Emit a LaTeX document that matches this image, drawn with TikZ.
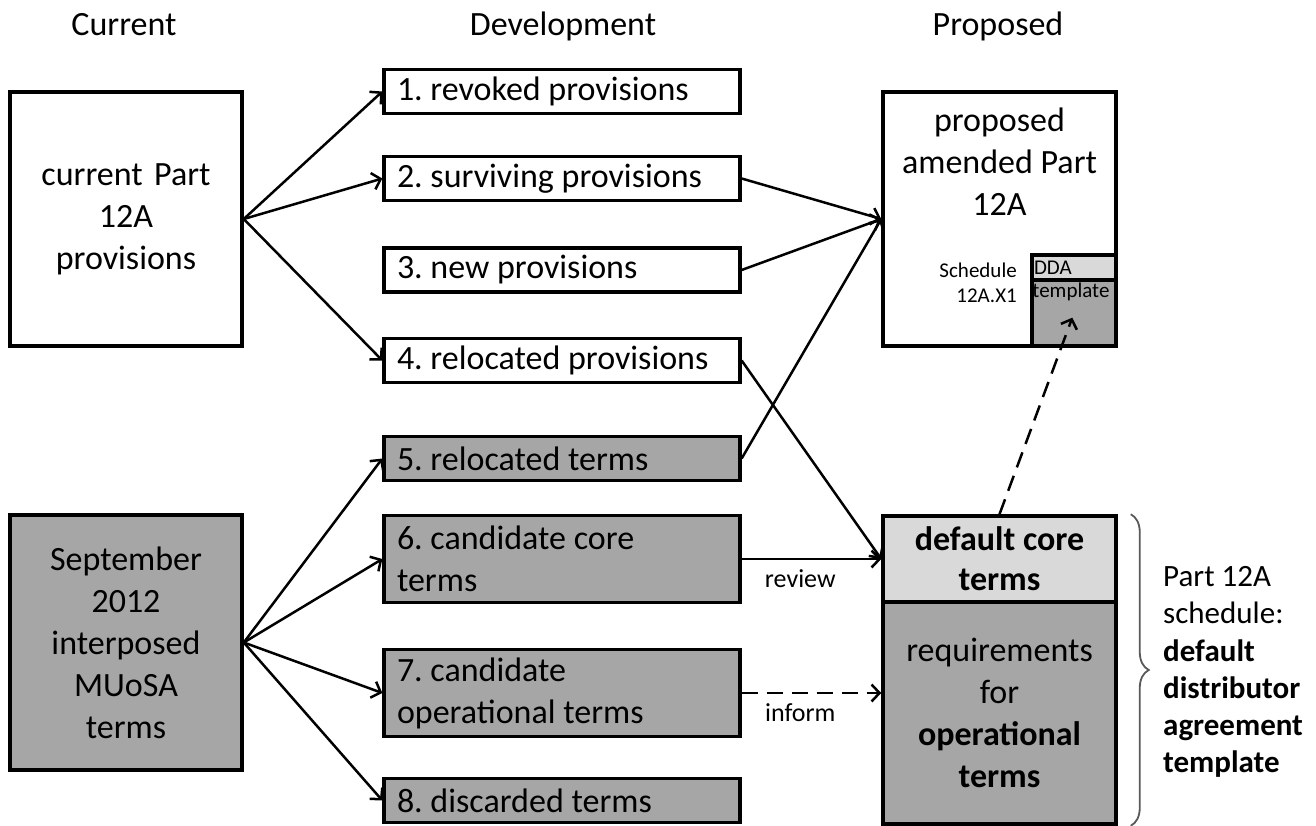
\documentclass[tikz,border=0pt]{standalone}
\usepackage{fontspec}
\setmainfont{Carlito}
\usetikzlibrary{arrows.meta,decorations.pathreplacing}
\definecolor{midgray}{HTML}{A6A6A6}
\definecolor{palegray}{HTML}{D9D9D9}
\definecolor{bracegray}{HTML}{595959}
\frenchspacing

\begin{document}
\begin{tikzpicture}[x=1pt,y=-1pt,
    every node/.style={font=\fontsize{34}{42}\selectfont},
    bigbox/.style={draw,line width=3.5pt,minimum width=232pt,text width=220pt,align=center,inner sep=0pt},
    box/.style={draw,line width=3.3pt,minimum width=356pt,minimum height=44pt,text width=330pt,inner xsep=13pt,inner ysep=0pt,align=flush left},
    small/.style={font=\fontsize{21}{25}\selectfont},
    lbl/.style={font=\fontsize{26}{30}\selectfont},
    arr/.style={line width=2.5pt,-{Straight Barb[length=8pt,width=17pt]}},
    dasharr/.style={arr,dash pattern=on 16pt off 9pt}]
    \useasboundingbox (0,0) rectangle (1316,826);
    % column headers
    \node[anchor=base] at (124,36) (hcur) {Current};
    \node[anchor=base] at (563,36) (hdev) {Development};
    \node[anchor=base] at (998,36) (hpro) {Proposed};
    % current column
    \node[bigbox,minimum height=254pt] at (126,219) (cur) {current Part\\12A\\provisions};
    \node[bigbox,fill=midgray,minimum height=255pt] at (126,642.5) (sep) {September\\2012\\interposed\\MUoSA\\terms};
    % development column
    \node[box] at (562,91.5) (p1) {1. revoked provisions};
    \node[box] at (562,178.5) (p2) {2. surviving provisions};
    \node[box] at (562,270) (p3) {3. new provisions};
    \node[box] at (562,360.5) (p4) {4. relocated provisions};
    \node[box,fill=midgray] at (562,458.5) (t5) {5. relocated terms};
    \node[box,fill=midgray,minimum height=87pt] at (562,559) (t6) {6. candidate core\\terms};
    \node[box,fill=midgray,minimum height=87pt] at (562,693) (t7) {7. candidate\\operational terms};
    \node[box,fill=midgray] at (562,800.5) (t8) {8. discarded terms};
    % proposed column
    \node[draw,line width=3.5pt,minimum width=233pt,minimum height=254pt] at (999.5,219) (prop) {};
    \node[align=center] at (999.5,162) (proptxt) {proposed\\amended Part\\12A};
    \node[small,align=right,anchor=east,inner sep=0pt] at (1017,283) (sched) {Schedule\\12A.X1};
    \node[small,draw,line width=3.5pt,fill=palegray,minimum width=84pt,minimum height=25pt,text width=80pt,inner xsep=2pt,inner ysep=0pt,align=left] at (1074,267.5) (dda) {DDA};
    \node[draw,line width=3.5pt,fill=midgray,minimum width=84pt,minimum height=66pt,label={[small,anchor=north west,inner xsep=2pt,inner ysep=4pt]north west:template}] at (1074,313) (tmpl) {};
    \node[draw,line width=3.5pt,fill=palegray,minimum width=233pt,minimum height=86pt,align=center,font=\fontsize{34}{40}\selectfont\bfseries] at (999.5,559) (core) {default core\\terms};
    \node[draw,line width=3.5pt,fill=midgray,minimum width=233pt,minimum height=222pt,align=center] at (999.5,713) (req) {requirements\\for\\\textbf{operational}\\\textbf{terms}};
    \draw[decorate,decoration={brace,amplitude=18pt},line width=1.8pt,draw=bracegray] ([xshift=13pt]core.north east) -- ([xshift=13pt]req.south east);
    \node[anchor=west,align=left,inner sep=0pt,font=\fontsize{31}{37.2}\selectfont] at (1163,672) (ddalbl) {Part 12A\\schedule:\\\textbf{default}\\\textbf{distributor}\\\textbf{agreement}\\\textbf{template}};
    % connectors
    \draw[arr] (cur.east) -- (p1.west);
    \draw[arr] (cur.east) -- (p2.west);
    \draw[arr] (cur.east) -- (p4.west);
    \draw[arr] (sep.east) -- (t5.west);
    \draw[arr] (sep.east) -- (t6.west);
    \draw[arr] (sep.east) -- (t7.west);
    \draw[arr] (sep.east) -- (t8.west);
    \draw[arr] (p2.east) -- (prop.west);
    \draw[arr] (p3.east) -- (prop.west);
    \draw[arr] (t5.east) -- (prop.west);
    \draw[arr] (p4.east) -- (core.west);
    \draw[arr] (t6.east) -- node[lbl,below=6pt,pos=0.42] {review} (core.west);
    \draw[dasharr] (t7.east) -- node[lbl,below=6pt,pos=0.42] {inform} (t7.east -| req.west);
    \draw[dasharr,shorten >=5pt] (core.north) -- (tmpl.center);
\end{tikzpicture}
\end{document}
